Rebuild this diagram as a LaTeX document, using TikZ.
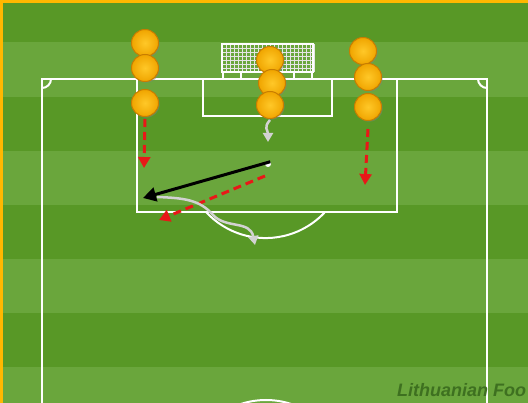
\documentclass[tikz,border=0pt]{standalone}
\usepackage{fontspec}
\newfontfamily\credfont{Liberation Sans}
\usetikzlibrary{arrows.meta,positioning,shadows}
\definecolor{pitchdark}{RGB}{88,152,38}
\definecolor{pitchlight}{RGB}{106,166,60}
\definecolor{frameorange}{RGB}{255,184,0}
\definecolor{runred}{RGB}{232,24,24}
\definecolor{dribblegray}{RGB}{210,210,210}
\definecolor{creditgreen}{RGB}{62,112,32}
\definecolor{ballrim}{RGB}{200,125,0}

\begin{document}
\begin{tikzpicture}[x=1pt,y=-1pt,
  line/.style={white,line width=2pt},
  player/.style={circle,minimum size=27pt,inner sep=0pt,draw=ballrim,line width=1pt,
    shading=radial,inner color={rgb,255:red,255;green,200;blue,40},outer color={rgb,255:red,240;green,165;blue,0},
    drop shadow={shadow xshift=1.2pt,shadow yshift=-1.2pt,opacity=0.45}},
  run/.style={runred,line width=3pt,dash pattern=on 8pt off 5pt,-{Triangle[length=11pt,width=12pt]}},
  pass/.style={black,line width=3pt,-{Triangle[length=13pt,width=14pt]}},
  dribble/.style={dribblegray,line width=2.5pt,-{Triangle[length=9pt,width=10pt]}}]
\useasboundingbox (0,0) rectangle (528,403);
\clip (0,0) rectangle (528,403);

%Pitch stripes
\fill[pitchlight] (0,0) rectangle (528,403);
\foreach \y in {-12,97,205,313}
  \fill[pitchdark] (0,\y) rectangle (528,\y+54);

%Outer lines
\draw[line] (42,420) -- (42,79) -- (487,79) -- (487,420);
\draw[line] (42,88) arc (90:0:9);
\draw[line] (478,79) arc (180:90:9);

%Penalty area
\draw[line] (137,79) rectangle (397,212);
\draw[line] (206,212) arc (137.3:42.7:81);

%Goal area
\draw[line] (203,79) rectangle (332,116);

%Centre circle
\draw[line] (266,481) circle (81);

%Goal
\foreach \x in {222,226,...,314}
  \draw[white!80!gray,line width=0.4pt] (\x,44) -- (\x,72);
\foreach \y in {44,48,...,72}
  \draw[white!80!gray,line width=0.4pt] (222,\y) -- (313,\y);
\draw[white,line width=1.2pt] (222,44) rectangle (313,72);
\foreach \x in {223,241,294,312}
  \draw[white,line width=1.2pt] (\x,72) -- (\x,79);

%Players left
\node[player] (p1) at (145,43) {};
\node[player] (p2) at (145,68) {};
\node[player] (p3) at (145,103) {};

%Players middle
\node[player] (p4) at (270,60) {};
\node[player] (p5) at (272,83) {};
\node[player] (p6) at (270,105) {};

%Players right
\node[player] (p7) at (363,51) {};
\node[player] (p8) at (368,77) {};
\node[player] (p9) at (368,107) {};

%Ball
\node[circle,fill=white,minimum size=6pt,inner sep=0pt] (ball) at (268,164) {};

%Runs
\coordinate (r1) at (144,168);
\coordinate (r2) at (365,185);
\coordinate (r3s) at (265,176);
\coordinate (r3) at (159,220);
\draw[run] ([yshift=-2pt]p3.south) -- (r1);
\draw[run] ([yshift=-8pt]p9.south) -- (r2);
\draw[run] (r3s) -- (r3);

%Pass
\coordinate (pass) at (143,198);
\draw[pass] (ball.north east) -- (pass);

%Dribbles
\coordinate (g1) at (268,142);
\draw[dribble] ([yshift=-1pt]p6.south) .. controls (263,128) and (268,130) .. (g1);
\coordinate (d1) at (157,197);
\coordinate (d2) at (255,245);
\draw[dribble] (d1) .. controls (185,198) and (200,200) .. (213,215)
  .. controls (226,229) and (250,220) .. (d2);

%Credit
\node[anchor=base west,inner sep=0pt,text=creditgreen,font=\credfont\bfseries\itshape\fontsize{18}{20}\selectfont] (credit) at (397,397) {Lithuanian Foo};

%Frame
\fill[frameorange] (0,0) rectangle (3,403);
\fill[frameorange] (0,0) rectangle (528,3);
\end{tikzpicture}
\end{document}
